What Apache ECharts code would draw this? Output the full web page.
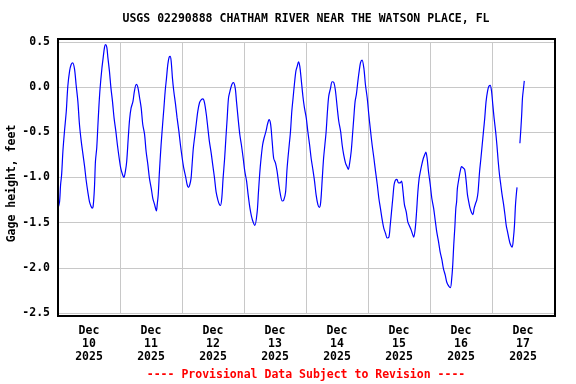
<!DOCTYPE html>
<html>
<head>
<meta charset="utf-8">
<script src="https://cdn.jsdelivr.net/npm/echarts@6/dist/echarts.min.js"></script>
<style>
html,body{margin:0;padding:0;background:#fff;}
#chart{width:576px;height:384px;}
</style>
</head>
<body>
<div id="chart"></div>
<script>
// Hours since 2025-12-10 00:00 (local) and gage height (feet); null marks a data gap
const hours = [
0.0,0.6,1.0,1.4,1.9,2.5,3.2,3.8,4.5,5.1,5.7,6.4,7.0,7.7,8.3,9.0,9.6,10.3,10.9,11.6,12.2,12.8,13.2,13.6,14.1,14.5,15.0,15.4,15.8,16.3,17.0,17.5,18.0,18.4,18.9,19.3,19.9,20.5,21.1,21.7,22.4,23.0,23.7,
24.3,25.0,25.5,26.1,26.6,27.2,27.7,28.3,29.0,29.6,30.3,30.9,31.6,32.2,32.8,33.5,34.1,34.8,35.4,36.1,36.7,37.4,38.1,38.4,38.8,39.2,39.5,39.9,40.5,41.0,41.5,42.0,42.5,43.0,43.4,43.8,44.3,44.8,45.5,46.1,46.8,47.4,
48.1,48.7,49.4,50.0,50.5,51.0,51.5,51.9,52.4,53.0,53.5,54.1,54.8,55.4,56.1,56.7,57.4,58.0,58.6,59.3,59.9,60.6,61.2,61.9,62.5,62.9,63.4,63.9,64.5,65.0,65.5,66.0,66.6,67.3,67.9,68.6,69.1,69.7,70.4,71.0,71.7,
72.3,73.0,73.6,74.3,74.9,75.5,76.2,77.1,77.6,78.1,78.6,79.2,79.8,80.5,81.1,81.7,82.3,82.9,83.5,84.2,84.8,85.5,86.1,86.8,87.4,88.1,88.6,89.0,89.5,90.0,90.5,91.0,91.5,92.1,92.6,93.1,93.6,94.1,94.8,95.4,
96.1,96.7,97.4,98.0,98.6,99.3,99.9,100.6,101.2,101.7,102.3,102.8,103.3,103.8,104.3,104.8,105.5,106.1,106.8,107.4,108.1,108.7,109.4,110.0,110.6,111.3,111.9,112.4,112.9,113.5,114.0,114.5,115.0,115.5,116.1,116.6,117.1,117.7,118.4,119.0,119.7,
120.3,121.0,121.6,122.3,122.9,123.6,124.2,124.8,125.5,126.1,126.8,127.4,128.1,128.6,129.1,129.6,130.1,130.6,131.2,131.8,132.4,133.0,133.5,134.1,134.8,135.4,136.1,136.7,137.4,137.7,138.3,138.8,139.3,139.8,140.3,140.8,141.4,141.9,142.4,142.9,143.4,
144.1,144.7,145.4,146.0,146.6,147.3,147.9,148.6,149.2,149.9,150.5,151.2,151.9,152.4,152.8,153.2,153.6,154.0,154.3,154.6,155.2,155.7,156.2,156.7,157.4,158.0,158.5,159.0,159.5,160.1,160.6,161.1,161.6,162.1,162.6,163.2,163.7,164.2,164.7,165.2,165.7,166.3,166.8,167.3,167.8,
168.3,168.8,169.4,169.9,170.4,170.9,171.4,171.9,172.5,173.0,173.5,174.0,174.5,175.0,175.8,176.3,176.7,177.1,177.5,177.7,178.2,178.8,179.2,179.5,179.8,180.2,180.5
];
const gage = [
-1.34,-1.27,-1.08,-0.97,-0.71,-0.49,-0.27,0.01,0.18,0.25,0.27,0.20,0.03,-0.16,-0.41,-0.60,-0.73,-0.88,-1.03,-1.17,-1.27,-1.32,-1.34,-1.32,-1.12,-0.82,-0.67,-0.45,-0.23,-0.01,0.21,0.33,0.44,0.47,0.44,0.33,0.18,-0.01,-0.16,-0.34,-0.49,-0.64,-0.79,
-0.90,-0.97,-1.00,-0.93,-0.82,-0.56,-0.36,-0.23,-0.16,-0.04,0.03,0.00,-0.12,-0.23,-0.41,-0.52,-0.71,-0.86,-1.01,-1.12,-1.23,-1.30,-1.37,-1.30,-1.19,-0.97,-0.82,-0.64,-0.41,-0.23,-0.04,0.10,0.25,0.33,0.34,0.29,0.10,-0.04,-0.19,-0.34,-0.49,-0.64,
-0.79,-0.90,-0.99,-1.08,-1.11,-1.08,-1.01,-0.86,-0.67,-0.53,-0.41,-0.27,-0.17,-0.14,-0.13,-0.17,-0.30,-0.45,-0.60,-0.73,-0.86,-1.01,-1.16,-1.25,-1.30,-1.31,-1.23,-1.01,-0.79,-0.56,-0.34,-0.12,-0.04,0.03,0.05,-0.01,-0.16,-0.34,-0.53,-0.64,-0.79,
-0.93,-1.04,-1.19,-1.34,-1.43,-1.49,-1.53,-1.38,-1.16,-0.95,-0.79,-0.64,-0.56,-0.49,-0.41,-0.36,-0.41,-0.60,-0.79,-0.84,-0.93,-1.08,-1.19,-1.26,-1.25,-1.16,-0.93,-0.79,-0.64,-0.49,-0.27,-0.12,0.03,0.18,0.23,0.28,0.23,0.10,-0.10,-0.23,
-0.34,-0.49,-0.64,-0.79,-0.90,-1.04,-1.19,-1.30,-1.33,-1.27,-1.01,-0.79,-0.64,-0.49,-0.27,-0.10,-0.01,0.06,0.05,-0.04,-0.23,-0.38,-0.49,-0.64,-0.75,-0.84,-0.88,-0.91,-0.84,-0.71,-0.53,-0.34,-0.16,-0.08,0.07,0.18,0.27,0.30,0.21,0.03,-0.12,
-0.30,-0.49,-0.64,-0.79,-0.93,-1.08,-1.23,-1.34,-1.47,-1.56,-1.62,-1.67,-1.66,-1.53,-1.38,-1.23,-1.08,-1.03,-1.02,-1.06,-1.06,-1.04,-1.14,-1.30,-1.38,-1.49,-1.54,-1.58,-1.64,-1.66,-1.56,-1.38,-1.16,-1.01,-0.93,-0.86,-0.79,-0.75,-0.72,-0.79,-0.93,
-1.08,-1.23,-1.34,-1.47,-1.60,-1.71,-1.82,-1.91,-2.01,-2.08,-2.16,-2.20,-2.22,-2.12,-1.97,-1.74,-1.56,-1.34,-1.27,-1.12,-1.01,-0.93,-0.88,-0.89,-0.91,-1.04,-1.19,-1.27,-1.34,-1.39,-1.41,-1.34,-1.29,-1.25,-1.16,-0.93,-0.79,-0.64,-0.49,-0.34,-0.16,-0.04,0.01,0.02,-0.04,
-0.19,-0.34,-0.49,-0.64,-0.82,-0.97,-1.08,-1.19,-1.30,-1.41,-1.53,-1.60,-1.67,-1.73,-1.77,-1.67,-1.53,-1.30,-1.16,-1.11,null,-0.62,-0.45,-0.30,-0.12,-0.01,0.07
];
const yTicks = [-2.5, -2.0, -1.5, -1.0, -0.5, 0.0, 0.5];
const dayLabels = ['Dec\n10\n2025','Dec\n11\n2025','Dec\n12\n2025','Dec\n13\n2025','Dec\n14\n2025','Dec\n15\n2025','Dec\n16\n2025','Dec\n17\n2025'];
const titleText = 'USGS 02290888 CHATHAM RIVER NEAR THE WATSON PLACE, FL';
const yName = 'Gage height, feet';
const footerText = '---- Provisional Data Subject to Revision ----';

const FONT = '"DejaVu Sans Mono", "Liberation Mono", monospace';
const FS = 11.5;
const chart = echarts.init(document.getElementById('chart'), null, {renderer: 'canvas'});
const data = hours.map((h, i) => [h, gage[i]]);

chart.setOption({
  animation: false,
  backgroundColor: '#ffffff',
  grid: {left: 58, top: 42, width: 496, height: 271, containLabel: false},
  xAxis: [
    {
      type: 'value', min: 0, max: 192, interval: 24,
      axisLine: {show: false}, axisTick: {show: false}, axisLabel: {show: false},
      splitLine: {show: true, lineStyle: {color: '#c8c8c8', width: 1}}
    },
    {
      type: 'value', min: 0, max: 192, interval: 12, position: 'bottom',
      axisLine: {show: false}, axisTick: {show: false},
      splitLine: {show: false},
      axisLabel: {
        show: true, margin: 11.5, lineHeight: 13,
        fontFamily: FONT, fontWeight: 'bold', fontSize: FS, color: '#000',
        formatter: function (v) {
          if (v % 24 === 12) { return dayLabels[Math.floor(v / 24)] || ''; }
          return '';
        }
      }
    }
  ],
  yAxis: {
    type: 'value', min: yTicks[0], max: yTicks[yTicks.length - 1], interval: 0.5,
    axisLine: {show: false}, axisTick: {show: false},
    splitLine: {show: true, lineStyle: {color: '#c8c8c8', width: 1}},
    axisLabel: {
      margin: 8, padding: [3, 0, 0, 0], fontFamily: FONT, fontWeight: 'bold', fontSize: FS, color: '#000',
      formatter: function (v) { return v.toFixed(1); }
    }
  },
  series: [{
    type: 'line', xAxisIndex: 0, yAxisIndex: 0, data: data,
    showSymbol: false, symbol: 'none', smooth: 0.3, connectNulls: false,
    lineStyle: {color: '#0000ff', width: 1.2}
  }],
  graphic: [
    {type: 'rect', shape: {x: 58, y: 39, width: 497, height: 277}, silent: true, z: 100,
     style: {fill: 'none', stroke: '#000', lineWidth: 2}},
    {type: 'text', x: 306, y: 19.5, z: 100,
     style: {text: titleText, align: 'center', verticalAlign: 'middle', fill: '#000',
             font: 'bold ' + FS + 'px ' + FONT}},
    {type: 'text', x: 12, y: 183.5, rotation: Math.PI / 2, z: 100,
     style: {text: yName, align: 'center', verticalAlign: 'middle', fill: '#000',
             font: 'bold ' + FS + 'px ' + FONT}},
    {type: 'text', x: 306, y: 375.5, z: 100,
     style: {text: footerText, align: 'center', verticalAlign: 'middle', fill: '#ff0000',
             font: 'bold ' + FS + 'px ' + FONT}}
  ]
});
</script>
</body>
</html>
